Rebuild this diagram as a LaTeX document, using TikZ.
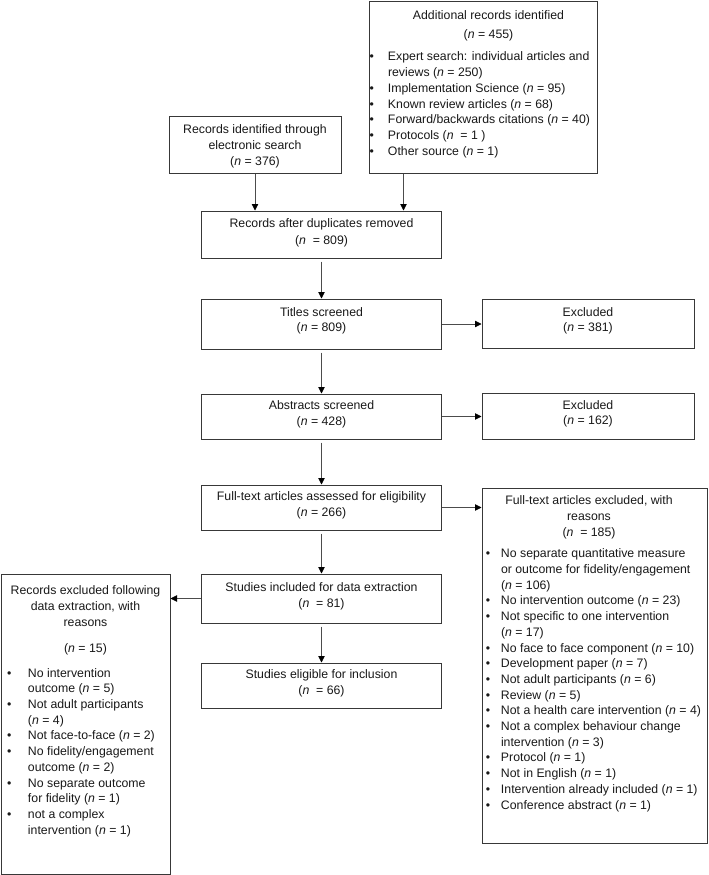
\documentclass[tikz,border=0pt]{standalone}
\usepackage{fontspec}
\setmainfont{Liberation Sans}
\usepackage{tikz}
\usetikzlibrary{arrows.meta}
\definecolor{boxline}{gray}{0.22}
\definecolor{arrowline}{gray}{0.3}
\definecolor{txt}{gray}{0.1}

\newlength{\bulx}
\newlength{\bulw}
\newcommand{\fullline}[1]{\hbox to \hsize{#1}}
\newcommand{\hdr}[2][0pt]{\fullline{\hss\hspace*{#1}#2\hspace*{-#1}\hss}}
\newcommand{\itm}[1]{\fullline{\hspace*{\bulx}\makebox[\bulw][l]{\textbullet}#1\hss}}
\newcommand{\cnt}[1]{\fullline{\hspace*{\bulx}\hspace*{\bulw}#1\hss}}
\newcommand{\boxtext}[4]{\parbox[c][#2][t]{#1}{\vspace*{\dimexpr#3-\baselineskip\relax}\hbox{}#4}}
\newcommand{\nn}[1]{(\textit{n} = #1)}

\begin{document}
\begin{tikzpicture}[x=1pt, y=-1pt,
  box/.style={draw=boxline, line width=1pt, rectangle, inner sep=0pt, text=txt,
    font=\fontsize{12.3}{15.7}\selectfont},
  flow/.style={->, >={Triangle[length=6.5pt,width=6.5pt,color=black]}, line width=0.8pt, arrowline},
  gap/.style={shorten <=3pt}]
\path[use as bounding box, fill=white] (0,0) rectangle (709,875);

% identification
\node[box] (search) at (255,144.5) {\boxtext{172pt}{57pt}{17pt}{%
  \hdr{Records identified through}\vspace{0.3pt}\hdr{electronic search}\vspace{0.3pt}\hdr{\nn{376}}}};
\node[box] (additional) at (483,87.5) {\boxtext{228pt}{171pt}{17pt}{%
  \setlength{\bulx}{0.5pt}\setlength{\bulw}{18.5pt}%
  \hdr[5.5pt]{Additional records identified}\vspace{3.3pt}%
  \hdr[5.5pt]{\nn{455}}\vspace{7.3pt}%
  \itm{Expert search: individual articles and}\cnt{reviews \nn{250}}%
  \itm{Implementation Science \nn{95}}%
  \itm{Known review articles \nn{68}}%
  \itm{Forward/backwards citations \nn{40}}%
  \itm{Protocols (\textit{n}\ \ = 1\ )}%
  \itm{Other source \nn{1}}}};

% screening
\node[box] (dup) at (321.5,234.5) {\boxtext{240pt}{47pt}{16.75pt}{%
  \hdr{Records after duplicates removed}\vspace{1pt}\hdr{(\textit{n}\ \ = 809)}}};
\node[box] (titles) at (321.5,324) {\boxtext{240pt}{50pt}{17pt}{%
  \hdr{Titles screened}\hdr{\nn{809}}}};
\node[box] (exca) at (588,323.5) {\boxtext{212pt}{49pt}{17.25pt}{%
  \hdr{Excluded}\hdr{\nn{381}}}};
\node[box] (abstracts) at (321.5,416.5) {\boxtext{240pt}{45pt}{15.75pt}{%
  \hdr{Abstracts screened}\hdr{\nn{428}}}};
\node[box] (excb) at (588,416) {\boxtext{212pt}{46pt}{16.25pt}{%
  \hdr{Excluded}\hdr{\nn{162}}}};

% eligibility
\node[box] (fulltext) at (321.5,507.5) {\boxtext{240pt}{45pt}{15.75pt}{%
  \hdr{Full-text articles assessed for eligibility}\hdr{\nn{266}}}};
\node[box] (excfull) at (594.5,665.5) {\boxtext{225pt}{355pt}{16.7pt}{%
  \setlength{\bulx}{3.8pt}\setlength{\bulw}{15.2pt}%
  \hdr[-5.5pt]{Full-text articles excluded, with}\hdr[-5.5pt]{reasons}%
  \hdr[-5.5pt]{(\textit{n}\ \ = 185)}\vspace{6pt}%
  \itm{No separate quantitative measure}\cnt{or outcome for fidelity/engagement}\cnt{\nn{106}}%
  \itm{No intervention outcome \nn{23}}%
  \itm{Not specific to one intervention}\cnt{\nn{17}}%
  \itm{No face to face component \nn{10}}%
  \itm{Development paper \nn{7}}%
  \itm{Not adult participants \nn{6}}%
  \itm{Review \nn{5}}%
  \itm{Not a health care intervention \nn{4}}%
  \itm{Not a complex behaviour change}\cnt{intervention \nn{3}}%
  \itm{Protocol \nn{1}}%
  \itm{Not in English \nn{1}}%
  \itm{Intervention already included \nn{1}}%
  \itm{Conference abstract \nn{1}}}};

% included
\node[box] (included) at (321.5,598.5) {\boxtext{240pt}{49pt}{17.75pt}{%
  \hdr{Studies included for data extraction}\hdr{(\textit{n}\ \ = 81)}}};
\node[box] (eligible) at (321.5,685.5) {\boxtext{240pt}{45pt}{15.75pt}{%
  \hdr{Studies eligible for inclusion}\hdr{(\textit{n}\ \ = 66)}}};
\node[box] (excdata) at (85.5,724) {\boxtext{169pt}{300pt}{20.7pt}{%
  \setlength{\bulx}{6.2pt}\setlength{\bulw}{20.8pt}%
  \hdr{Records excluded following}\hdr{data extraction, with}\hdr{reasons}\vspace{10.3pt}%
  \hdr{\nn{15}}\vspace{9.3pt}%
  \itm{No intervention}\cnt{outcome \nn{5}}%
  \itm{Not adult participants}\cnt{\nn{4}}%
  \itm{Not face-to-face \nn{2}}%
  \itm{No fidelity/engagement}\cnt{outcome \nn{2}}%
  \itm{No separate outcome}\cnt{for fidelity \nn{1}}%
  \itm{not a complex}\cnt{intervention \nn{1}}}};

\draw[flow] (search.south) -- (search.south |- dup.north);
\draw[flow] ([xshift=35pt]additional.south west) -- ([xshift=35pt]additional.south west |- dup.north);
\draw[flow, gap] (dup.south) -- (titles.north);
\draw[flow] (titles.east) -- (titles.east -| exca.west);
\draw[flow, gap] (titles.south) -- (abstracts.north);
\draw[flow] (abstracts.east) -- (abstracts.east -| excb.west);
\draw[flow, gap] (abstracts.south) -- (fulltext.north);
\draw[flow] (fulltext.east) -- (fulltext.east -| excfull.west);
\draw[flow, gap] (fulltext.south) -- (included.north);
\draw[flow] (included.west) -- (included.west -| excdata.east);
\draw[flow, gap] (included.south) -- (eligible.north);
\end{tikzpicture}
\end{document}
